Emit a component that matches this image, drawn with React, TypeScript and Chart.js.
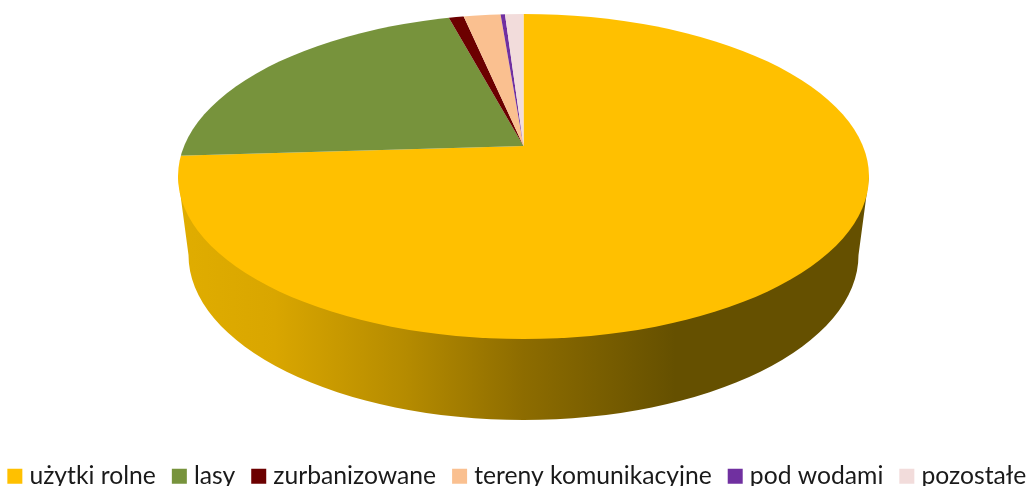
import React, { useEffect, useRef } from "react";
import { Chart, registerables } from "chart.js";

Chart.register(...registerables);

const categories = ["użytki rolne", "lasy", "zurbanizowane", "tereny komunikacyjne", "pod wodami", "pozostałe"];
const shares = [74.0, 21.7, 0.85, 2.1, 0.25, 1.05];
const sliceColors = ["#FFC000", "#77933C", "#6C0000", "#FAC090", "#7030A0", "#F2DCDB"];

const apex = { x: 523.5, y: 146 };
const top = { x: 523.5, y: 176.5, rx: 345.5, ry: 162.5 };
const base = { x: 523.5, y: 255, rx: 335, ry: 165 };
const flatten = 0.47;

const pie3d = {
  id: "pie3d",
  beforeDatasetsDraw(chart: any) {
    const ctx = chart.ctx;
    const arc = chart.getDatasetMeta(0).data[0];
    ctx.save();
    const g = ctx.createLinearGradient(178, 0, 869, 0);
    g.addColorStop(0, "#E0AD00");
    g.addColorStop(0.14, "#D9A600");
    g.addColorStop(0.33, "#B58B00");
    g.addColorStop(0.5, "#8D6C00");
    g.addColorStop(0.72, "#655000");
    g.addColorStop(1, "#655000");
    ctx.fillStyle = g;
    ctx.beginPath();
    ctx.moveTo(top.x - top.rx, top.y);
    ctx.lineTo(base.x - base.rx, base.y);
    ctx.ellipse(base.x, base.y, base.rx, base.ry, 0, Math.PI, 0, true);
    ctx.lineTo(top.x + top.rx, top.y);
    ctx.closePath();
    ctx.fill();
    ctx.restore();

    ctx.save();
    ctx.beginPath();
    ctx.ellipse(top.x, top.y, top.rx, top.ry, 0, 0, Math.PI * 2);
    ctx.clip();
    const scale = 1200 / arc.outerRadius;
    ctx.translate(apex.x, apex.y);
    ctx.scale(scale, scale * flatten);
    ctx.translate(-arc.x, -arc.y);
  },
  afterDatasetsDraw(chart: any) {
    chart.ctx.restore();
  },
};

export default function App() {
  const ref = useRef<HTMLCanvasElement>(null);
  useEffect(() => {
    document.body.style.margin = "0";
    const chart = new Chart(ref.current!, {
      type: "pie",
      data: {
        labels: categories,
        datasets: [{ data: shares, backgroundColor: sliceColors, borderWidth: 0, clip: false } as any],
      },
      plugins: [pie3d],
      options: {
        responsive: false,
        animation: false,
        layout: { padding: { bottom: -12.5, left: -24, right: -36 } },
        plugins: {
          tooltip: { enabled: false },
          legend: {
            position: "bottom",
            labels: {
              font: { family: "Lato", size: 24.7 },
              color: "#1A1A1A",
              usePointStyle: true,
              pointStyle: "rect",
              boxWidth: 4.5,
              boxHeight: 15,
              padding: 21.25,
            },
          },
        },
      },
    } as any);
    return () => chart.destroy();
  }, []);
  return (
    <canvas
      ref={ref}
      width={1027}
      height={486}
      style={{ position: "absolute", left: 0, top: 0, display: "block" }}
    />
  );
}
